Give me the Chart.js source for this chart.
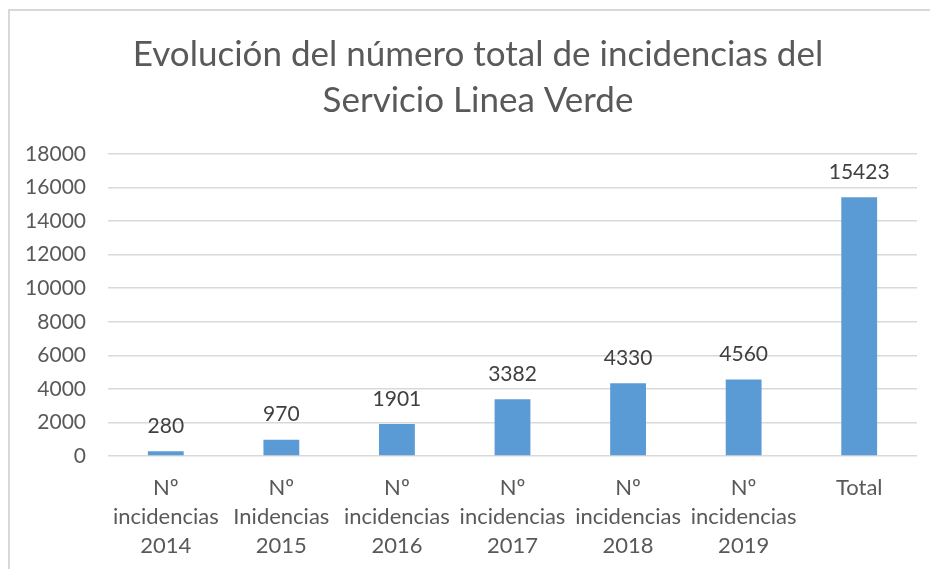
<!DOCTYPE html>
<html>
<head>
<meta charset="utf-8">
<script src="https://cdn.jsdelivr.net/npm/chart.js@4"></script>
<style>
    html, body { margin: 0; padding: 0; background: #fff; overflow: hidden; }
    #wrap { position: relative; width: 930px; height: 569px; }
    #frame { position: absolute; left: 8px; top: 9px; width: 940px; height: 580px;
             border-top: 2px solid #d9d9d9; border-left: 2px solid #d9d9d9; box-sizing: border-box; }
    canvas { position: absolute; left: 0; top: 0; }
</style>
</head>
<body>
<div id="wrap">
    <div id="frame"></div>
    <canvas id="incChart" width="930" height="569"></canvas>
</div>
<script>
// Chart data
const categories = [
    ['Nº', 'incidencias', '2014'],
    ['Nº', 'Inidencias', '2015'],
    ['Nº', 'incidencias', '2016'],
    ['Nº', 'incidencias', '2017'],
    ['Nº', 'incidencias', '2018'],
    ['Nº', 'incidencias', '2019'],
    ['Total']
];
const incidencias = [280, 970, 1901, 3382, 4330, 4560, 15423];
const titleLines = ['Evolución del número total de incidencias del', 'Servicio Linea Verde'];

const FONT = 'Lato';

// Title drawn by hand: in the original it sits centred on the outer frame, not the canvas
const frameTitle = {
    id: 'frameTitle',
    afterDraw(chart) {
        const { ctx } = chart;
        ctx.save();
        ctx.font = '35px ' + FONT;
        ctx.fillStyle = '#595959';
        ctx.textAlign = 'center';
        ctx.textBaseline = 'middle';
        titleLines.forEach((line, i) => {
            ctx.fillText(line, 478, 55 + i * 46);
        });
        ctx.restore();
    }
};

// Value labels above each bar
const valueLabels = {
    id: 'valueLabels',
    afterDatasetsDraw(chart) {
        const { ctx } = chart;
        const meta = chart.getDatasetMeta(0);
        ctx.save();
        ctx.font = '21px ' + FONT;
        ctx.fillStyle = '#404040';
        ctx.textAlign = 'center';
        ctx.textBaseline = 'middle';
        meta.data.forEach((bar, i) => {
            ctx.fillText(incidencias[i], bar.x, bar.y - 25);
        });
        ctx.restore();
    }
};

new Chart(document.getElementById('incChart'), {
    type: 'bar',
    data: {
        labels: categories,
        datasets: [{
            data: incidencias,
            backgroundColor: '#5b9bd5',
            categoryPercentage: 1,
            barPercentage: 0.31
        }]
    },
    options: {
        responsive: false,
        animation: false,
        layout: { padding: { left: 0, right: 13, top: 154, bottom: 0 } },
        plugins: {
            legend: { display: false },
            tooltip: { enabled: false },
            title: { display: false }
        },
        scales: {
            x: {
                grid: { display: false, drawTicks: false },
                border: { display: false },
                ticks: {
                    color: '#595959',
                    font: { family: FONT, size: 22, lineHeight: 1.32 },
                    padding: 17,
                    maxRotation: 0,
                    autoSkip: false
                },
                afterFit(scale) { scale.height = 113; }
            },
            y: {
                min: 0,
                max: 18000,
                ticks: {
                    stepSize: 2000,
                    color: '#595959',
                    font: { family: FONT, size: 21 },
                    padding: 22,
                    callback: (v) => String(v)
                },
                grid: { color: '#d9d9d9', lineWidth: 1.5, drawTicks: false },
                border: { display: false },
                afterFit(scale) { scale.width = 108; }
            }
        }
    },
    plugins: [valueLabels, frameTitle]
});
</script>
</body>
</html>
